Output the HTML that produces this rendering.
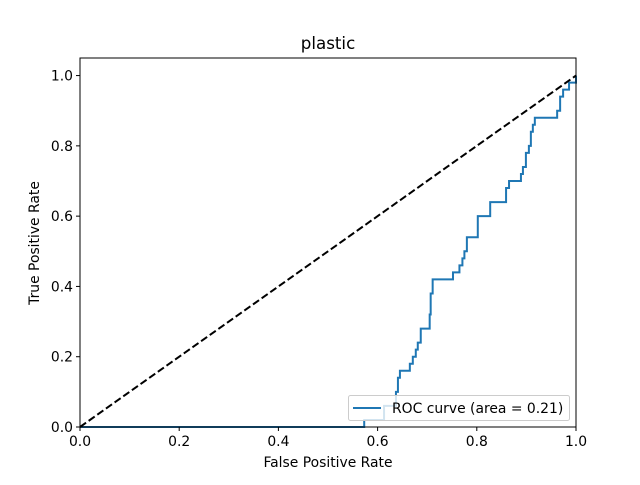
<!DOCTYPE html>
<html><head><meta charset="utf-8"><style>
body{margin:0;background:#fff;font-family:"Liberation Sans","DejaVu Sans",sans-serif}
</style></head><body>
<svg id="chart" width="640" height="480" xmlns="http://www.w3.org/2000/svg" font-family="'DejaVu Sans','Liberation Sans',sans-serif"></svg>
<script>
const fprVals=[0,0.573,0.573,0.613,0.613,0.637,0.637,0.641,0.641,0.645,0.645,0.665,0.665,0.671,0.671,0.677,0.677,0.681,0.681,0.687,0.687,0.705,0.705,0.707,0.707,0.711,0.711,0.752,0.752,0.765,0.765,0.771,0.771,0.775,0.775,0.78,0.78,0.802,0.802,0.827,0.827,0.859,0.859,0.865,0.865,0.889,0.889,0.893,0.893,0.899,0.899,0.905,0.905,0.909,0.909,0.913,0.913,0.917,0.917,0.962,0.962,0.968,0.968,0.974,0.974,0.986,0.986,1.0,1.0];
const tprVals=[0,0,0.02,0.02,0.06,0.06,0.10,0.10,0.14,0.14,0.16,0.16,0.18,0.18,0.20,0.20,0.22,0.22,0.24,0.24,0.28,0.28,0.32,0.32,0.38,0.38,0.42,0.42,0.44,0.44,0.46,0.46,0.48,0.48,0.50,0.50,0.54,0.54,0.60,0.60,0.64,0.64,0.68,0.68,0.70,0.70,0.72,0.72,0.74,0.74,0.78,0.78,0.80,0.80,0.84,0.84,0.86,0.86,0.88,0.88,0.90,0.90,0.94,0.94,0.96,0.96,0.98,0.98,1.0];
const tickVals=[0,0.2,0.4,0.6,0.8,1.0];
const tickLabels=["0.0","0.2","0.4","0.6","0.8","1.0"];
const yMax=1.05;
const NS="http://www.w3.org/2000/svg",svg=document.getElementById('chart');
const L=80,R=576,T=58,B=427;
const sx=v=>L+v*(R-L), sy=v=>B-v/yMax*(B-T);
function mk(tag,attrs,txt){const e=document.createElementNS(NS,tag);for(const k in attrs)e.setAttribute(k,attrs[k]);if(txt!=null)e.textContent=txt;svg.appendChild(e);return e;}
let e;
e=mk('polyline',{points:fprVals.map((v,i)=>sx(v)+','+sy(tprVals[i])).join(' '),fill:'none',stroke:'#1f77b4','stroke-width':2});


e=mk('line',{x1:sx(0),y1:sy(0),x2:sx(1),y2:sy(1),stroke:'#000','stroke-width':2,'stroke-dasharray':'7.4,3.2'});


e=mk('rect',{x:L,y:T,width:R-L,height:B-T,fill:'none',stroke:'#000','stroke-width':1});


tickVals.forEach((v,i)=>{
  e=mk('line',{x1:sx(v),y1:B,x2:sx(v),y2:B+4,stroke:'#000'});
  
  
  e=mk('text',{x:sx(v),y:B+19,'text-anchor':'middle','font-size':13.9},tickLabels[i]);
  
  
  e=mk('line',{x1:L-4,y1:sy(v),x2:L,y2:sy(v),stroke:'#000'});
  
  
  e=mk('text',{x:L-7,y:sy(v)+5,'text-anchor':'end','font-size':13.9},tickLabels[i]);
  
  
});
e=mk('text',{x:328,y:467,'text-anchor':'middle','font-size':13.9},'False Positive Rate');


e=mk('text',{x:39,y:243,'text-anchor':'middle','font-size':13.9,transform:'rotate(-90 39 243)'},'True Positive Rate');


e=mk('text',{x:328,y:49,'text-anchor':'middle','font-size':16.7},'plastic');


e=mk('rect',{x:348.5,y:395.5,width:221,height:25,rx:2,fill:'#fff','fill-opacity':0.8,stroke:'#ccc'});


e=mk('line',{x1:353,y1:408,x2:381,y2:408,stroke:'#1f77b4','stroke-width':2});


e=mk('text',{x:392,y:413,'font-size':13.9},'ROC curve (area = 0.21)');


</script>
</body></html>
